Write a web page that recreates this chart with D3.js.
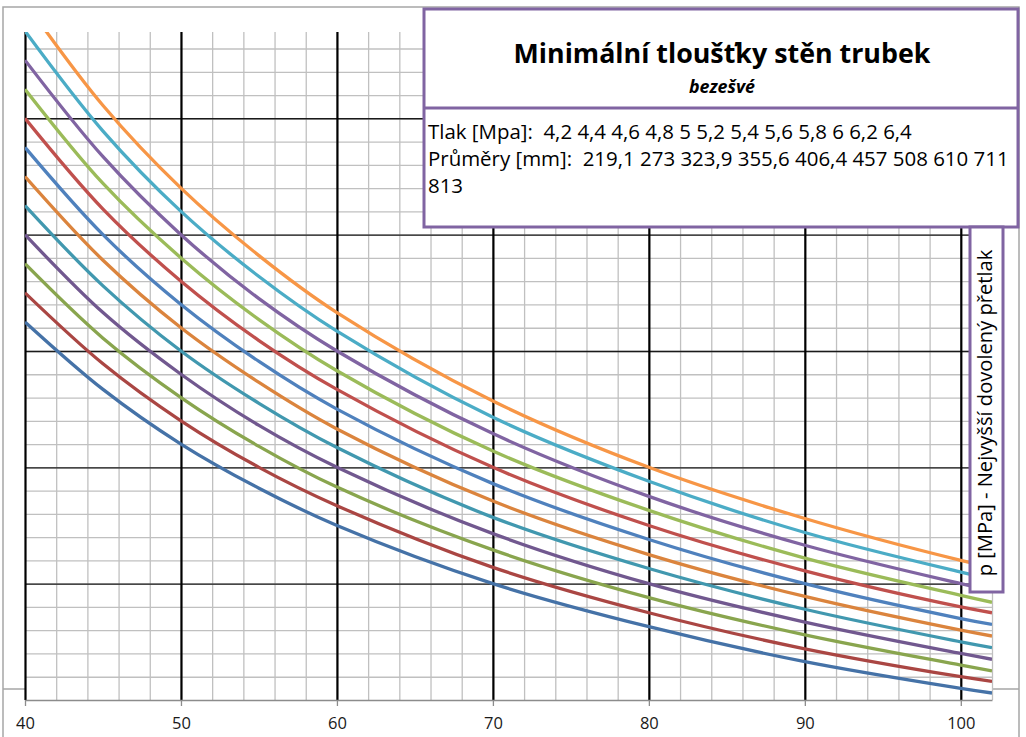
<!DOCTYPE html>
<html>
<head>
<meta charset="utf-8">
<title>Minimální tloušťky stěn trubek</title>
<script src="https://d3js.org/d3.v7.min.js"></script>
<style>
  body { margin: 0; background: #fff; }
  text { font-family: "Open Sans", "Noto Sans", sans-serif; white-space: pre; }
</style>
</head>
<body>
<svg id="chart" width="1026" height="737"></svg>
<script>
// x positions
var xValues = [40, 45, 50, 55, 60, 70, 80, 90, 100, 102];

// one curve per pressure (bottom curve first)
var c42 = [5.25, 4.67, 4.20, 3.82, 3.50, 3.00, 2.63, 2.33, 2.10, 2.06];
var c44 = [5.50, 4.89, 4.40, 4.00, 3.67, 3.14, 2.75, 2.44, 2.20, 2.16];
var c46 = [5.75, 5.11, 4.60, 4.18, 3.83, 3.29, 2.88, 2.56, 2.30, 2.25];
var c48 = [6.00, 5.33, 4.80, 4.36, 4.00, 3.43, 3.00, 2.67, 2.40, 2.35];
var c50 = [6.25, 5.56, 5.00, 4.55, 4.17, 3.57, 3.13, 2.78, 2.50, 2.45];
var c52 = [6.50, 5.78, 5.20, 4.73, 4.33, 3.71, 3.25, 2.89, 2.60, 2.55];
var c54 = [6.75, 6.00, 5.40, 4.91, 4.50, 3.86, 3.38, 3.00, 2.70, 2.65];
var c56 = [7.00, 6.22, 5.60, 5.09, 4.67, 4.00, 3.50, 3.11, 2.80, 2.75];
var c58 = [7.25, 6.44, 5.80, 5.27, 4.83, 4.14, 3.63, 3.22, 2.90, 2.84];
var c60 = [7.50, 6.67, 6.00, 5.45, 5.00, 4.29, 3.75, 3.33, 3.00, 2.94];
var c62 = [7.75, 6.89, 6.20, 5.64, 5.17, 4.43, 3.88, 3.44, 3.10, 3.04];
var c64 = [8.00, 7.11, 6.40, 5.82, 5.33, 4.57, 4.00, 3.56, 3.20, 3.14];
var curves = [c42, c44, c46, c48, c50, c52, c54, c56, c58, c60, c62, c64];

var colors = ["#4572A7", "#AA4643", "#89A54E", "#71588F", "#4198AF", "#DB843D",
              "#4F81BD", "#C0504D", "#9BBB59", "#8064A2", "#4BACC6", "#F79646"];

var xTicks = [40, 50, 60, 70, 80, 90, 100];
var xMinor = d3.range(42, 103, 2);
var yMajor = [3, 4, 5, 6, 7];
var yMinor = d3.range(2.2, 7.7, 0.2);

var titleText = "Minimální tloušťky stěn trubek";
var subtitleText = "bezešvé";
var infoLines = ["Tlak [Mpa]:  4,2 4,4 4,6 4,8 5 5,2 5,4 5,6 5,8 6 6,2 6,4",
                 "Průměry [mm]:  219,1 273 323,9 355,6 406,4 457 508 610 711",
                 "813"];
var yLabel = "p [MPa] - Nejvyšší dovolený přetlak";

var svg = d3.select("#chart");
var plotLeft = 25, plotTop = 32, plotRight = 992, plotBottom = 700;
var w = plotRight - plotLeft, h = plotBottom - plotTop;

var xScale = d3.scaleLinear().domain([40, 102]).range([0, w]);
var yScale = d3.scaleLinear().domain([2, 7.742]).range([h, 0]);

// outer frame lines
svg.append("rect").attr("x", 3).attr("y", 7).attr("width", 1016).attr("height", 740)
  .attr("fill", "none").attr("stroke", "#a6a6a6").attr("stroke-width", 1.5);
svg.append("line").attr("x1", 3).attr("x2", 1019).attr("y1", 689).attr("y2", 689)
  .attr("stroke", "#a6a6a6").attr("stroke-width", 1.5);

var g = svg.append("g").attr("transform", "translate(" + plotLeft + "," + plotTop + ")");
g.append("rect").attr("width", w).attr("height", h).attr("fill", "#fff");

// minor grid
g.append("g").attr("class", "grid").attr("transform", "translate(0," + h + ")")
  .call(d3.axisBottom(xScale).tickValues(xMinor).tickSize(-h).tickFormat(""));
g.append("g").attr("class", "grid")
  .call(d3.axisLeft(yScale).tickValues(yMinor).tickSize(-w).tickFormat(""));
g.selectAll(".grid line").attr("stroke", "#c0c0c0").attr("stroke-width", 1.3);
g.selectAll(".grid .domain").remove();

// major grid
g.append("g").attr("class", "hmaj")
  .call(d3.axisLeft(yScale).tickValues(yMajor).tickSize(-w).tickFormat(""));
g.selectAll(".hmaj line").attr("stroke", "#1a1a1a").attr("stroke-width", 1.4);
g.selectAll(".hmaj .domain").remove();
g.append("g").attr("class", "vmaj").attr("transform", "translate(0," + h + ")")
  .call(d3.axisBottom(xScale).tickValues(xTicks).tickSize(-h).tickFormat(""));
g.selectAll(".vmaj line").attr("stroke", "#000").attr("stroke-width", 2.2);
g.selectAll(".vmaj .domain").remove();

// x axis
var xAxis = g.append("g").attr("class", "xaxis").attr("transform", "translate(0," + h + ")")
  .call(d3.axisBottom(xScale).tickValues(xTicks).tickSize(6).tickPadding(11).tickSizeOuter(0));
xAxis.select(".domain").attr("stroke", "#8c8c8c").attr("stroke-width", 1.5);
xAxis.selectAll(".tick line").attr("stroke", "#8c8c8c").attr("stroke-width", 1.3);
xAxis.selectAll("text").attr("font-size", 16.5).attr("fill", "#1a1a1a")
  .attr("font-family", "'Open Sans', sans-serif");

// curves
svg.append("clipPath").attr("id", "clip").append("rect")
  .attr("width", w).attr("height", h);
var line = d3.line()
  .x(function (d, i) { return xScale(xValues[i]); })
  .y(function (d) { return yScale(d); })
  .curve(d3.curveCatmullRom);
g.append("g").attr("clip-path", "url(#clip)")
  .selectAll("path").data(curves).enter().append("path")
  .attr("d", line)
  .attr("fill", "none")
  .attr("stroke", function (d, i) { return colors[i]; })
  .attr("stroke-width", 3.3);

function fit(sel, target) {
  var len = sel.node().getComputedTextLength();
  var fs = parseFloat(sel.attr("font-size"));
  sel.attr("font-size", fs * target / len);
}

// title box
var purple = "#8064A2";
svg.append("rect").attr("x", 424).attr("y", 9).attr("width", 594).attr("height", 218)
  .attr("fill", "#fff").attr("stroke", purple).attr("stroke-width", 3);
svg.append("line").attr("x1", 424).attr("x2", 1018).attr("y1", 108).attr("y2", 108)
  .attr("stroke", purple).attr("stroke-width", 3);

var t1 = svg.append("text").attr("x", 722).attr("y", 63).attr("text-anchor", "middle")
  .attr("font-size", 24).attr("font-weight", "bold").attr("fill", "#000").text(titleText);
fit(t1, 417);
var t2 = svg.append("text").attr("x", 722).attr("y", 93).attr("text-anchor", "middle")
  .attr("font-size", 16).attr("font-weight", "bold").attr("font-style", "italic")
  .attr("fill", "#000").text(subtitleText);
fit(t2, 66);

var infoY = [139, 166, 193];
var infoTexts = [];
infoLines.forEach(function (s, i) {
  var t = svg.append("text").attr("x", 428).attr("y", infoY[i]).attr("font-size", 16)
    .attr("fill", "#000").text(s);
  if (i == 1) fit(t, 581);
  infoTexts.push(t);
});
infoTexts[0].attr("font-size", infoTexts[1].attr("font-size"));
infoTexts[2].attr("font-size", infoTexts[1].attr("font-size"));

// axis title box on the right
svg.append("rect").attr("x", 970).attr("y", 227).attr("width", 33).attr("height", 365)
  .attr("fill", "#fff").attr("stroke", purple).attr("stroke-width", 3);
var yl = svg.append("text").attr("transform", "translate(992,413) rotate(-90)")
  .attr("text-anchor", "middle").attr("font-size", 16).attr("fill", "#000").text(yLabel);
fit(yl, 327);
</script>
</body>
</html>
